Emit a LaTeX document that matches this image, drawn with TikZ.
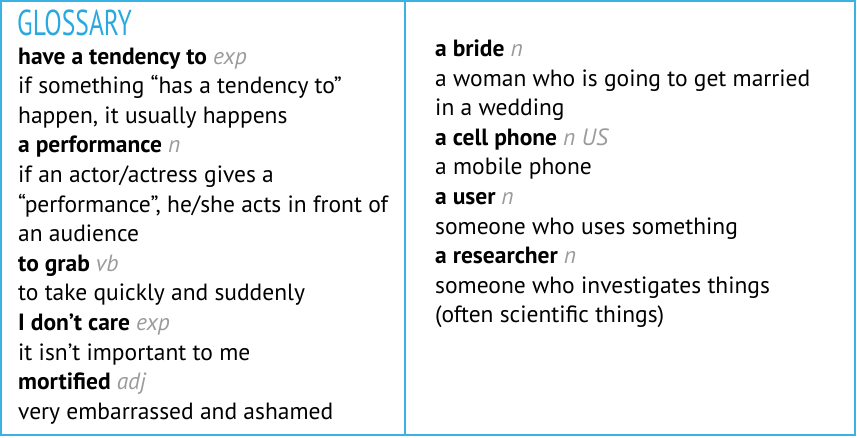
\documentclass[tikz,border=0pt]{standalone}
\usepackage{fontspec}
\setmainfont{PT Sans}
\definecolor{glossblue}{HTML}{3BB2E4}
\definecolor{glosstitle}{HTML}{29A9E0}
\definecolor{glossgrey}{HTML}{9B9B9B}
\newcommand{\glossfont}{\fontsize{23.5}{28}\selectfont}
\newcommand{\wclass}[1]{{\mdseries\itshape\color{glossgrey}#1}}
\tikzset{
  entry/.style={anchor=base west, inner sep=0pt, font=\glossfont},
  word/.style={entry, font=\glossfont\bfseries},
  frame/.style={draw=glossblue, line width=2pt}
}
\begin{document}
\begin{tikzpicture}[x=1pt, y=-1pt]
\useasboundingbox (0,0) rectangle (857,437);
\draw[frame] (1,1) rectangle (405,435);
\draw[frame] (405,1) rectangle (855,435);

\node[anchor=base west, inner sep=0pt, text=glosstitle, font=\fontsize{36}{36}\selectfont] (title) at (17,35) {\scalebox{0.71}[1]{GLOSSARY}};

\node[word] (l0) at (18,64) {have a tendency to \wclass{exp}};
\node[entry] (l1) at (18,93.6) {if something “has a tendency to”};
\node[entry] (l2) at (18,123.2) {happen, it usually happens};
\node[word] (l3) at (18,152.8) {a performance \wclass{n}};
\node[entry] (l4) at (18,182.4) {if an actor/actress gives a};
\node[entry] (l5) at (18,212) {“performance”, he/she acts in front of};
\node[entry] (l6) at (18,241.6) {an audience};
\node[word] (l7) at (18,271.2) {to grab \wclass{vb}};
\node[entry] (l8) at (18,300.8) {to take quickly and suddenly};
\node[word] (l9) at (18,330.4) {I don’t care \wclass{exp}};
\node[entry] (l10) at (18,360) {it isn’t important to me};
\node[word] (l11) at (18,389.6) {mortified \wclass{adj}};
\node[entry] (l12) at (18,419.2) {very embarrassed and ashamed};

\node[word] (r0) at (435,56.5) {a bride \wclass{n}};
\node[entry] (r1) at (435,86.1) {a woman who is going to get married};
\node[entry] (r2) at (435,115.7) {in a wedding};
\node[word] (r3) at (435,145.3) {a cell phone \wclass{n US}};
\node[entry] (r4) at (435,174.9) {a mobile phone};
\node[word] (r5) at (435,204.5) {a user \wclass{n}};
\node[entry] (r6) at (435,234.1) {someone who uses something};
\node[word] (r7) at (435,263.7) {a researcher \wclass{n}};
\node[entry] (r8) at (435,293.3) {someone who investigates things};
\node[entry] (r9) at (435,322.9) {(often scientific things)};
\end{tikzpicture}
\end{document}
